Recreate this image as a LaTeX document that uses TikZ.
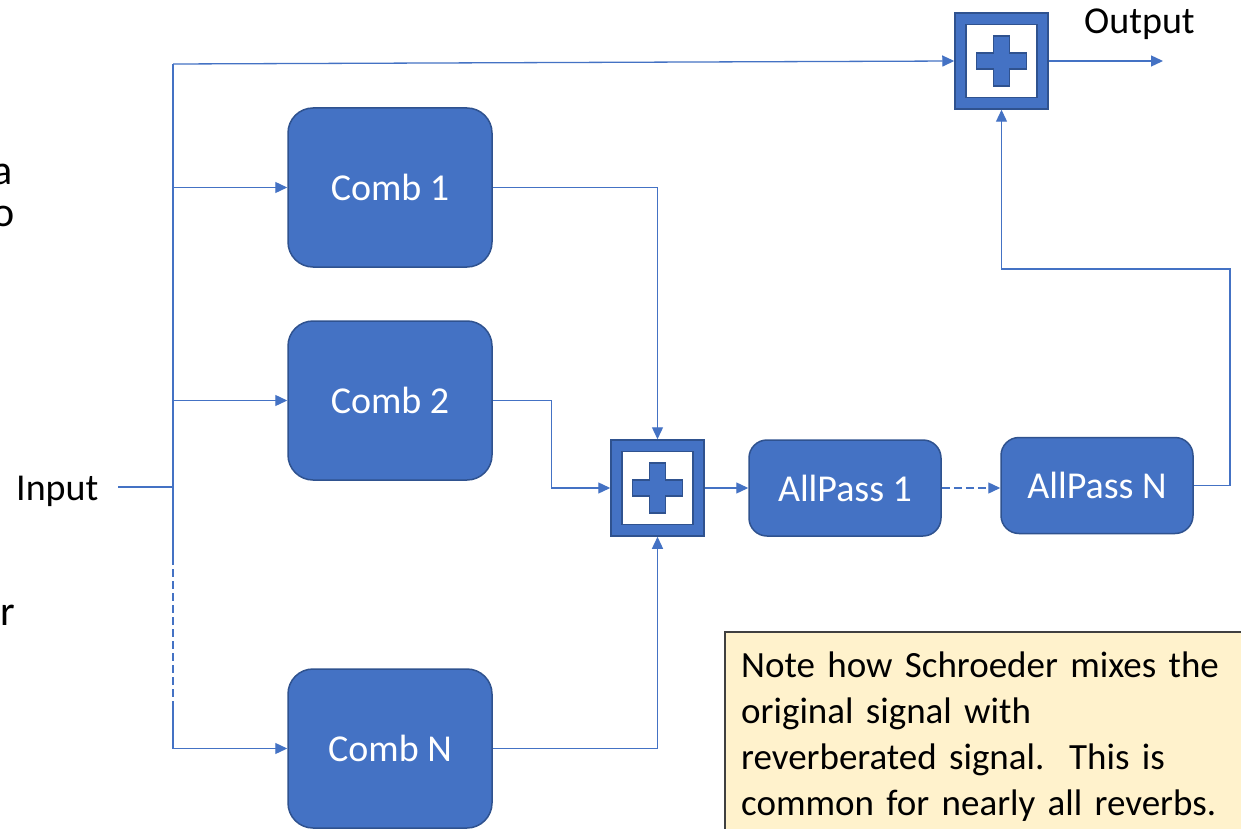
\documentclass[tikz,border=0pt]{standalone}
\usepackage{fontspec}
\setmainfont{Carlito}
\usetikzlibrary{arrows.meta,calc}
\definecolor{blk}{HTML}{4472C4}
\definecolor{blkdark}{HTML}{2F528F}
\definecolor{notefill}{HTML}{FFF2CC}
\begin{document}
\begin{tikzpicture}[x=1pt,y=-1pt,
  combbox/.style={draw=blkdark,line width=1.5pt,fill=blk,rounded corners=25pt,minimum width=204pt,minimum height=159pt,text=white,font=\fontsize{38}{44}\selectfont,inner sep=0pt},
  apbox/.style={combbox,rounded corners=18pt,minimum width=192pt,minimum height=96pt},
  sumbox/.style={draw=blkdark,line width=1.5pt,fill=blk,minimum width=93pt,minimum height=96pt,inner sep=0pt,
     path picture={\begin{scope}[shift={(path picture bounding box.center)}]
        \draw[blkdark,line width=1.5pt,fill=white] (-35.5,-36.5) rectangle (35.5,36.5);
        \draw[blkdark,line width=1.2pt,fill=blk] (-8,-25)--(8,-25)--(8,-8)--(25,-8)--(25,8)--(8,8)--(8,25)--(-8,25)--(-8,8)--(-25,8)--(-25,-8)--(-8,-8)--cycle;
     \end{scope}}},
  sig/.style={draw=blk,line width=1.3pt},
  arr/.style={sig,-{Triangle[length=12pt,width=11pt]}},
  dashsig/.style={dash pattern=on 8pt off 4pt},
  lbl/.style={font=\fontsize{38}{46}\selectfont,text=black,inner sep=0pt},
  notetext/.style={font=\fontsize{37}{46}\selectfont,text=black,inner sep=0pt},
  frag/.style={font=\fontsize{42}{42}\selectfont,text=black,inner sep=0pt}
]
\useasboundingbox (0,0) rectangle (1241,829);
\clip (0,0) rectangle (1241,829);
\fill[white] (0,0) rectangle (1241,829);

% cut-off slide text at the left edge
\node[frag,anchor=base east] (fa) at (13,185) {a};
\node[frag,anchor=base east] (fo) at (15,226) {o};
\node[frag,anchor=base east] (fr) at (15,625) {r};

% blocks
\node[combbox] (c1) at (390,187.5) {Comb 1};
\node[combbox] (c2) at (390,400.5) {Comb 2};
\node[combbox] (cn) at (390,748.5) {Comb N};
\node[sumbox] (s1) at (657.5,488) {};
\node[sumbox] (s2) at (1001.5,61) {};
\node[apbox] (a1) at (845,488) {AllPass 1};
\node[apbox] (an) at (1097,485.5) {AllPass N};

% labels
\node[lbl,anchor=base west] (inlbl) at (16,500) {Input};
\node[lbl,anchor=base west] (outlbl) at (1084,34) {Output};

% note
\path[draw=black!75,line width=1.2pt,fill=notefill] (725,632) rectangle (1260,845);
\node[notetext,anchor=north west,text width=500pt,align=left] (note) at (741,652)
  {Note how Schroeder mixes the\\original signal with\\reverberated signal.\ \ This is\\common for nearly all reverbs.};

% coordinates
\coordinate (inp) at (118,487);
\coordinate (btop) at (173,64);
\coordinate (bbot) at (173,748.5);
\coordinate (d1) at (173,557);
\coordinate (d2) at (173,703);
\coordinate (r1) at (1230,269);
\coordinate (outend) at (1163,61);

% input bus
\draw[sig] (inp) -- (inp -| btop);
\draw[sig] (btop) -- (d1);
\draw[sig,dashsig] (d1) -- (d2);
\draw[sig] (d2) -- (bbot);
\draw[arr] (btop) -- (s2.west);
\draw[arr] (btop |- c1.west) -- (c1.west);
\draw[arr] (btop |- c2.west) -- (c2.west);
\draw[arr] (bbot) -- (cn.west);

% combs to summer
\draw[arr] (c1.east) -| (s1.north);
\draw[arr] (c2.east) -- ++(59,0) |- (s1.west);
\draw[arr] (cn.east) -| (s1.south);

% allpass chain
\draw[arr] (s1.east) -- (a1.west);
\draw[arr,dashsig] (a1.east) -- (a1.east -| an.west);
\draw[arr] (an.east) -| (r1) -| (s2.south);
\draw[arr] (s2.east) -- (outend);
\end{tikzpicture}
\end{document}
